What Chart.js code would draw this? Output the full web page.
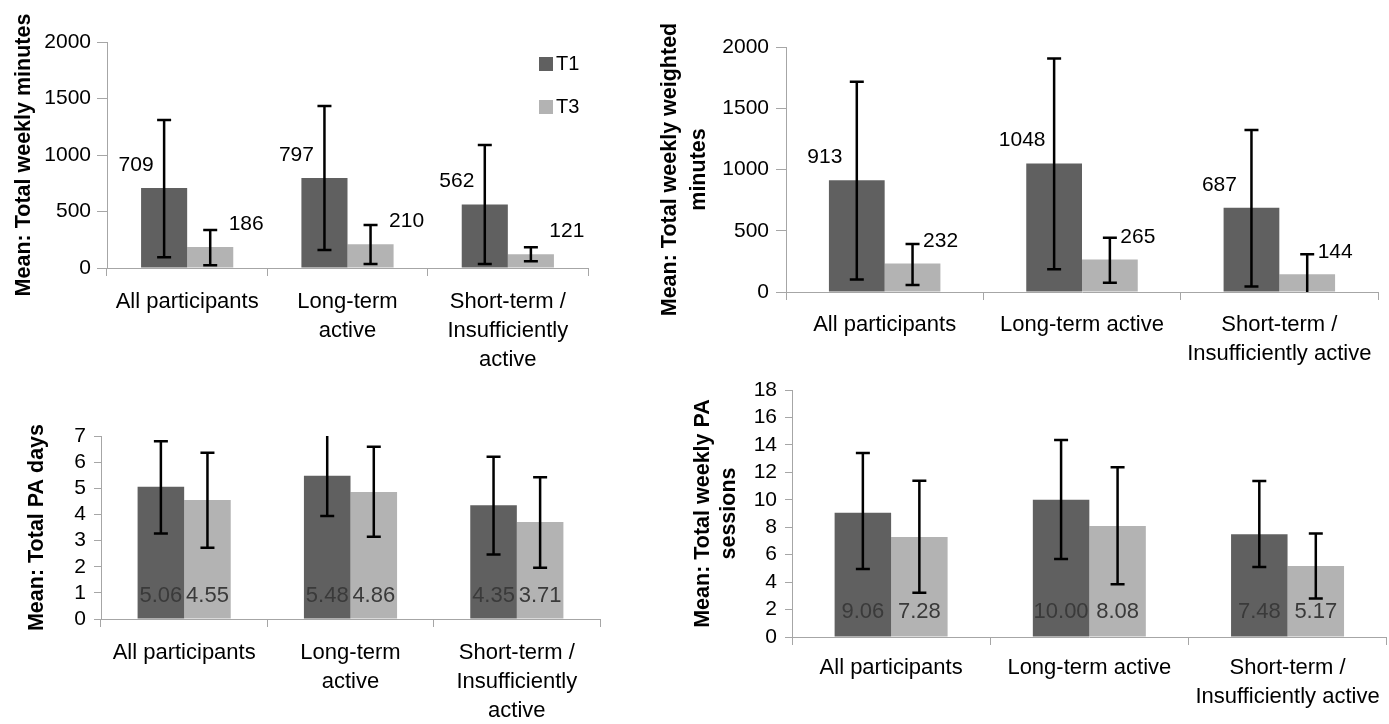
<!DOCTYPE html>
<html>
<head>
<meta charset="utf-8">
<script src="https://cdn.jsdelivr.net/npm/chart.js@4.4.1/dist/chart.umd.min.js"></script>
<style>
  body { margin: 0; background: #fff; width: 1389px; height: 724px; overflow: hidden; position: relative; }
  canvas { position: absolute; }
</style>
</head>
<body>
<canvas id="minutesChart" style="left:0px;top:0px" width="640" height="380"></canvas>
<canvas id="weightedChart" style="left:640px;top:0px" width="749" height="380"></canvas>
<canvas id="daysChart" style="left:0px;top:380px" width="640" height="344"></canvas>
<canvas id="sessionsChart" style="left:640px;top:364px" width="749" height="360"></canvas>
<script>
// categories
const groupsNarrow = [['All participants'], ['Long-term', 'active'], ['Short-term /', 'Insufficiently', 'active']];
const groupsWide = [['All participants'], ['Long-term active'], ['Short-term /', 'Insufficiently active']];
const seriesNames = ['T1', 'T3'];

// total weekly minutes (means, then error bar low / high ends)
const minutesT1 = [709, 797, 562];
const minutesT3 = [186, 210, 121];
const minutesT1Lo = [95, 160, 35];
const minutesT1Hi = [1310, 1434, 1088];
const minutesT3Lo = [24, 35, 60];
const minutesT3Hi = [337, 380, 184];

// total weekly weighted minutes
const weightedT1 = [913, 1048, 687];
const weightedT3 = [232, 265, 144];
const weightedT1Lo = [103, 185, 44];
const weightedT1Hi = [1717, 1907, 1322];
const weightedT3Lo = [57, 76, -20];
const weightedT3Hi = [392, 443, 308];

// total PA days
const daysT1 = [5.06, 5.48, 4.35];
const daysT3 = [4.55, 4.86, 3.71];
const daysT1Lo = [3.27, 3.94, 2.47];
const daysT1Hi = [6.80, 7.02, 6.21];
const daysT3Lo = [2.73, 3.15, 1.96];
const daysT3Hi = [6.36, 6.59, 5.42];

// total weekly PA sessions
const sessionsT1 = [9.06, 10.00, 7.48];
const sessionsT3 = [7.28, 8.08, 5.17];
const sessionsT1Lo = [4.95, 5.68, 5.10];
const sessionsT1Hi = [13.40, 14.36, 11.37];
const sessionsT3Lo = [3.23, 3.84, 2.80];
const sessionsT3Hi = [11.39, 12.37, 7.54];

const T1_COLOR = '#606060';
const T3_COLOR = '#b3b3b3';
const AXIS_COLOR = '#a6a6a6';
const FONT = '"Liberation Sans", Arial, sans-serif';

// error bars between lo and hi, clipped to the axis range (no cap when clipped)
const errorBars = {
  id: 'errorBars',
  afterDatasetsDraw(chart) {
    const ctx = chart.ctx;
    const y = chart.scales.y;
    ctx.save();
    ctx.strokeStyle = '#000';
    ctx.lineWidth = 2.5;
    chart.data.datasets.forEach((ds, di) => {
      chart.getDatasetMeta(di).data.forEach((bar, i) => {
        const hi = ds.hi[i];
        const lo = ds.lo[i];
        const yHi = y.getPixelForValue(Math.min(hi, y.max));
        const yLo = y.getPixelForValue(Math.max(lo, y.min));
        ctx.beginPath();
        ctx.moveTo(bar.x, yHi);
        ctx.lineTo(bar.x, yLo);
        if (hi <= y.max) { ctx.moveTo(bar.x - 7, yHi); ctx.lineTo(bar.x + 7, yHi); }
        if (lo >= y.min) { ctx.moveTo(bar.x - 7, yLo); ctx.lineTo(bar.x + 7, yLo); }
        ctx.stroke();
      });
    });
    ctx.restore();
  }
};

const valueLabels = {
  id: 'valueLabels',
  afterDatasetsDraw(chart, args, opts) {
    const ctx = chart.ctx;
    ctx.save();
    ctx.font = opts.size + 'px ' + FONT;
    ctx.fillStyle = opts.color;
    ctx.textAlign = 'center';
    ctx.textBaseline = 'middle';
    chart.data.datasets.forEach((ds, di) => {
      const off = opts.offsets[di];
      chart.getDatasetMeta(di).data.forEach((bar, i) => {
        const ty = opts.inside ? bar.base - off[1] : bar.y + off[1];
        ctx.fillText(ds.data[i].toFixed(opts.decimals), bar.x + off[0], ty);
      });
    });
    ctx.restore();
  }
};

const boxLegend = {
  id: 'boxLegend',
  afterDraw(chart, args, opts) {
    const ctx = chart.ctx;
    ctx.save();
    ctx.font = '20px ' + FONT;
    ctx.textBaseline = 'middle';
    chart.data.datasets.forEach((ds, i) => {
      const y = opts.y + i * opts.gap;
      ctx.fillStyle = ds.backgroundColor;
      ctx.fillRect(opts.x, y - 7, 14, 14);
      ctx.fillStyle = '#000';
      ctx.fillText(ds.label, opts.x + 17, y);
    });
    ctx.restore();
  }
};

// rotated y-axis title, centred on the plot area
const sideTitle = {
  id: 'sideTitle',
  afterDraw(chart, args, opts) {
    const {ctx, chartArea} = chart;
    ctx.save();
    ctx.translate(opts.x, (chartArea.top + chartArea.bottom) / 2);
    ctx.rotate(-Math.PI / 2);
    ctx.font = 'bold 21.5px ' + FONT;
    ctx.fillStyle = '#000';
    ctx.textAlign = 'center';
    ctx.textBaseline = 'middle';
    opts.text.forEach((line, i) => ctx.fillText(line, 0, i * opts.lineHeight));
    ctx.restore();
  }
};

function drawPanel(id, p) {
  new Chart(document.getElementById(id), {
    type: 'bar',
    data: {
      labels: p.labels,
      datasets: [
        {label: seriesNames[0], data: p.t1, lo: p.t1Lo, hi: p.t1Hi, backgroundColor: T1_COLOR},
        {label: seriesNames[1], data: p.t3, lo: p.t3Lo, hi: p.t3Hi, backgroundColor: T3_COLOR}
      ]
    },
    options: {
      responsive: false,
      animation: false,
      layout: {padding: p.pad},
      datasets: {bar: {categoryPercentage: p.catPct, barPercentage: 1}},
      plugins: {
        legend: {display: false},
        tooltip: {enabled: false},
        valueLabels: p.values,
        boxLegend: p.legend || false,
        sideTitle: p.title
      },
      scales: {
        x: {
          grid: {offset: true, drawOnChartArea: false, tickLength: 8, color: AXIS_COLOR},
          border: {color: AXIS_COLOR},
          ticks: {color: '#000', padding: p.xPad, font: {family: FONT, size: 22, lineHeight: 1.3}},
          afterFit(s) { s.height = p.xHeight; }
        },
        y: {
          min: 0,
          max: p.max,
          ticks: {
            stepSize: p.step, autoSkip: false, color: '#000', padding: p.yPad,
            font: {family: FONT, size: 21},
            callback: v => String(v)
          },
          grid: {drawOnChartArea: false, tickLength: p.yTick, color: AXIS_COLOR},
          border: {color: AXIS_COLOR},
          afterFit(s) { s.width = p.yWidth; }
        }
      }
    },
    plugins: [errorBars, valueLabels, boxLegend, sideTitle]
  });
}

drawPanel('minutesChart', {
  labels: groupsNarrow, t1: minutesT1, t3: minutesT3,
  t1Lo: minutesT1Lo, t1Hi: minutesT1Hi, t3Lo: minutesT3Lo, t3Hi: minutesT3Hi,
  max: 2000, step: 500, catPct: 0.575,
  pad: {left: 0, top: 42, right: 52, bottom: 12}, xHeight: 100, yWidth: 107,
  xPad: 12, yPad: 6, yTick: 10,
  values: {size: 21, color: '#000', decimals: 0, inside: false, offsets: [[-28, -23], [36, -23]]},
  legend: {x: 539, y: 64, gap: 43},
  title: {x: 24, lineHeight: 26, text: ['Mean: Total weekly minutes']}
});

drawPanel('weightedChart', {
  labels: groupsWide, t1: weightedT1, t3: weightedT3,
  t1Lo: weightedT1Lo, t1Hi: weightedT1Hi, t3Lo: weightedT3Lo, t3Hi: weightedT3Hi,
  max: 2000, step: 500, catPct: 0.565,
  pad: {left: 0, top: 47, right: 11, bottom: 8}, xHeight: 80, yWidth: 146,
  xPad: 11, yPad: 7, yTick: 10,
  values: {size: 21, color: '#000', decimals: 0, inside: false, offsets: [[-32, -23], [28, -22]]},
  title: {x: 30, lineHeight: 29, text: ['Mean: Total weekly weighted', 'minutes']}
});

drawPanel('daysChart', {
  labels: groupsNarrow, t1: daysT1, t3: daysT3,
  t1Lo: daysT1Lo, t1Hi: daysT1Hi, t3Lo: daysT3Lo, t3Hi: daysT3Hi,
  max: 7, step: 1, catPct: 0.56,
  pad: {left: 0, top: 56, right: 40, bottom: 5}, xHeight: 100, yWidth: 101,
  xPad: 12, yPad: 8, yTick: 7,
  values: {size: 22, color: '#3a3a3a', decimals: 2, inside: true, offsets: [[0, 23], [0, 23]]},
  title: {x: 37, lineHeight: 26, text: ['Mean: Total PA days']}
});

drawPanel('sessionsChart', {
  labels: groupsWide, t1: sessionsT1, t3: sessionsT3,
  t1Lo: sessionsT1Lo, t1Hi: sessionsT1Hi, t3Lo: sessionsT3Lo, t3Hi: sessionsT3Hi,
  max: 18, step: 2, catPct: 0.57,
  pad: {left: 0, top: 26, right: 2, bottom: 7}, xHeight: 80, yWidth: 152,
  xPad: 9, yPad: 8, yTick: 7,
  values: {size: 22, color: '#3a3a3a', decimals: 2, inside: true, offsets: [[0, 25], [0, 25]]},
  title: {x: 63, lineHeight: 26, text: ['Mean: Total weekly PA', 'sessions']}
});
</script>
</body>
</html>
